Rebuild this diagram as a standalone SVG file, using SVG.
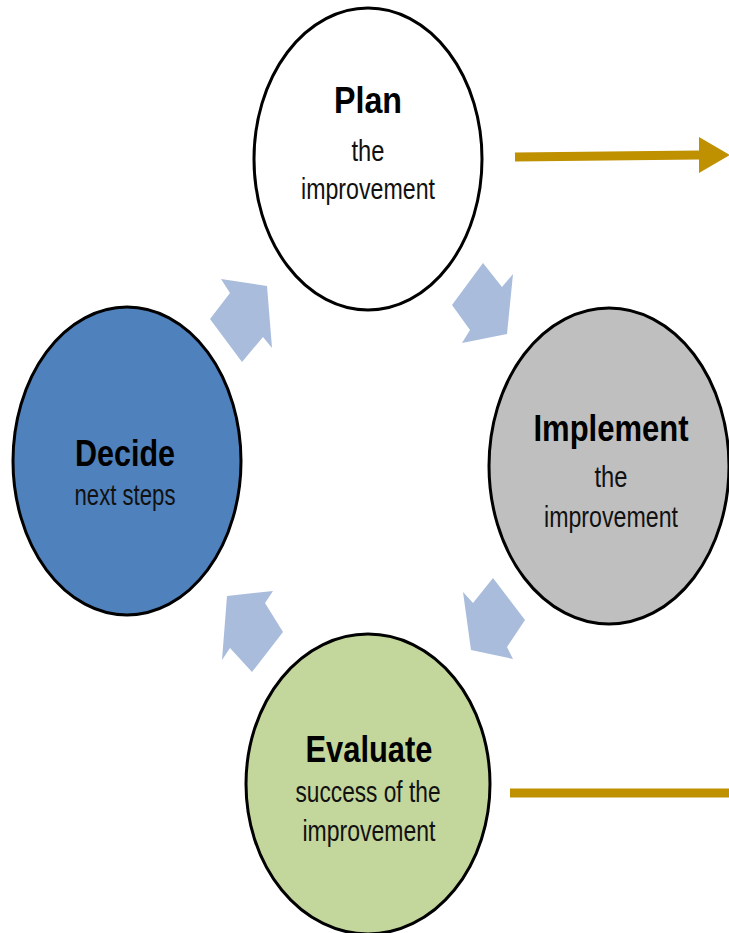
<svg xmlns="http://www.w3.org/2000/svg" width="729" height="933" viewBox="0 0 729 933">
<defs>
<style>
.node{stroke:#000;stroke-width:3}
.t{font-family:"Liberation Sans",Arial,sans-serif;font-weight:bold;fill:#000;text-anchor:middle}
.s{font-family:"Liberation Sans",Arial,sans-serif;fill:#111;text-anchor:middle}
.blk{fill:#a9bcdb}
.gold{stroke:#bf9000;stroke-width:9;fill:none}
</style>
</defs>
<rect width="729" height="933" fill="#fff"/>
<g id="connectors">
<polygon class="blk" points="221,279 267,286 272,348 263,337 242,362 210,319 230,293"/>
<polygon class="blk" points="483,263 502,287 513,274 507,334 462,343 470,330 452,305"/>
<polygon class="blk" points="493,578 525,620 507,647 513,659 471,650 463,592 473,603"/>
<polygon class="blk" points="273,591 265,603 283,632 252,672 230,648 222,660 227,596"/>
<line class="gold" x1="515" y1="157" x2="699" y2="155"/>
<path d="M699,137 L730,155 L699,173 Z" fill="#bf9000"/>
<line class="gold" x1="510" y1="793" x2="729" y2="793"/>
</g>
<g id="plan">
<ellipse class="node" cx="368" cy="159" rx="114" ry="151" fill="#fff"/>
<text class="t" x="368" y="113" font-size="37" textLength="68" lengthAdjust="spacingAndGlyphs">Plan</text>
<text class="s" x="368" y="161" font-size="30" textLength="33" lengthAdjust="spacingAndGlyphs">the</text>
<text class="s" x="368" y="199" font-size="30" textLength="134" lengthAdjust="spacingAndGlyphs">improvement</text>
</g>
<g id="implement">
<ellipse class="node" cx="609" cy="466" rx="120" ry="158" fill="#bfbfbf"/>
<text class="t" x="611" y="441" font-size="37" textLength="155" lengthAdjust="spacingAndGlyphs">Implement</text>
<text class="s" x="611" y="487" font-size="30" textLength="33" lengthAdjust="spacingAndGlyphs">the</text>
<text class="s" x="611" y="527" font-size="30" textLength="134" lengthAdjust="spacingAndGlyphs">improvement</text>
</g>
<g id="decide">
<ellipse class="node" cx="127" cy="461" rx="114" ry="154" fill="#4f81bd"/>
<text class="t" x="125" y="466" font-size="37" textLength="100" lengthAdjust="spacingAndGlyphs">Decide</text>
<text class="s" x="125" y="505" font-size="30" textLength="101" lengthAdjust="spacingAndGlyphs">next steps</text>
</g>
<g id="evaluate">
<ellipse class="node" cx="368" cy="784" rx="122" ry="150" fill="#c3d69b"/>
<text class="t" x="369" y="762" font-size="37" textLength="127" lengthAdjust="spacingAndGlyphs">Evaluate</text>
<text class="s" x="368" y="802" font-size="30" textLength="145" lengthAdjust="spacingAndGlyphs">success of the</text>
<text class="s" x="369" y="841" font-size="30" textLength="133" lengthAdjust="spacingAndGlyphs">improvement</text>
</g>
</svg>
